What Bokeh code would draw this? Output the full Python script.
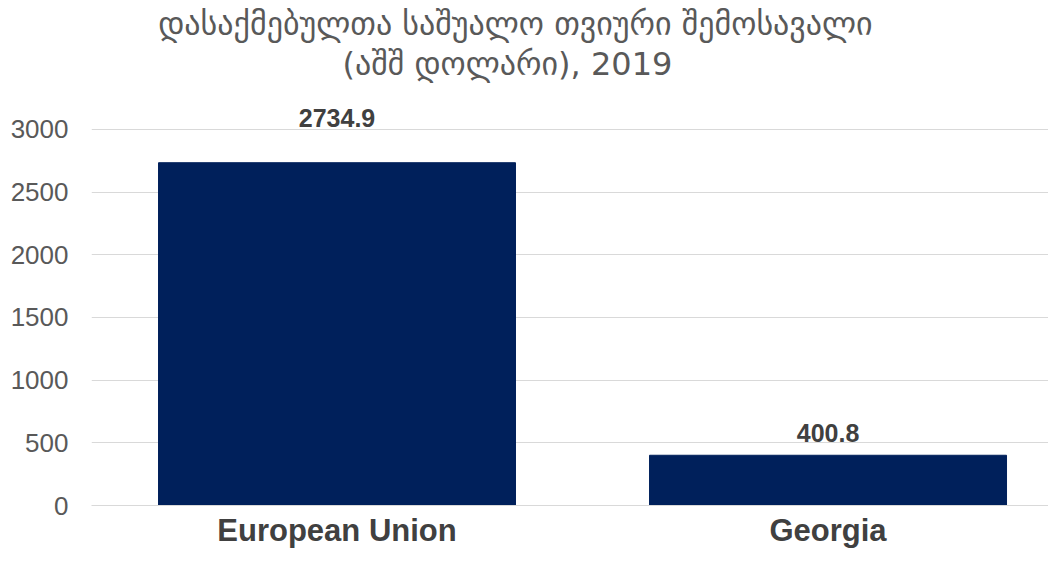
from bokeh.plotting import figure
from bokeh.models import ColumnDataSource, Range1d, FixedTicker
from bokeh.core.properties import value
from bokeh.embed import file_html
from bokeh.resources import INLINE

# ---- data ----
categories = ["European Union", "Georgia"]
values = [2734.9, 400.8]
value_labels = ["2734.9", "400.8"]
y_ticks = [0, 500, 1000, 1500, 2000, 2500, 3000]
title_lines = ["დასაქმებულთა  საშუალო  თვიური შემოსავალი", "(აშშ დოლარი), 2019"]

# ---- styling / layout ----
BAR_COLOR = "#00205B"
TEXT_GRAY = "#595959"
LABEL_GRAY = "#404040"
label_offsets = [-45, -22]

xs = [i + 0.5 for i in range(len(categories))]
src = ColumnDataSource(dict(x=xs, top=values, lab=value_labels, off=label_offsets))

p = figure(width=1048, height=551, output_backend="svg", toolbar_location=None,
           x_range=Range1d(0, 1.949), y_range=Range1d(0, 4029),
           min_border_left=91, min_border_right=0, min_border_top=0, min_border_bottom=46)
p.outline_line_color = None
p.background_fill_color = "white"
p.border_fill_color = "white"

p.vbar(x="x", top="top", width=0.727, source=src, color=BAR_COLOR)
p.text(x="x", y="top", text="lab", source=src, y_offset="off",
       text_align="center", text_baseline="middle",
       text_font=value("Liberation Sans"), text_font_style="bold",
       text_font_size="25px", text_color=LABEL_GRAY)

# title lines
p.text(x=[0.884], y=[3844], text=[title_lines[0]], text_align="center", text_baseline="middle",
       text_font=value("DejaVu Sans"), text_font_size="32px", text_color=TEXT_GRAY)
p.text(x=[0.847], y=[3525], text=[title_lines[1]], text_align="center", text_baseline="middle",
       text_font=value("DejaVu Sans"), text_font_size="32px", text_color=TEXT_GRAY)

# axes
p.xaxis.ticker = FixedTicker(ticks=xs)
p.xaxis.major_label_overrides = {x: c for x, c in zip(xs, categories)}
p.xaxis.major_label_text_font = "Liberation Sans"
p.xaxis.major_label_text_font_style = "bold"
p.xaxis.major_label_text_font_size = "31px"
p.xaxis.major_label_text_color = LABEL_GRAY
p.xaxis.major_label_standoff = 7
p.xaxis.major_tick_out = 0
p.xaxis.major_tick_in = 0
p.xaxis.axis_line_color = "#d9d9d9"
p.xaxis.major_tick_line_color = None
p.xaxis.minor_tick_line_color = None

p.yaxis.ticker = FixedTicker(ticks=y_ticks)
p.yaxis.major_label_text_font = "Liberation Sans"
p.yaxis.major_label_text_font_size = "26px"
p.yaxis.major_label_text_color = TEXT_GRAY
p.yaxis.major_label_standoff = 23
p.yaxis.major_tick_out = 0
p.yaxis.major_tick_in = 0
p.yaxis.axis_line_color = None
p.yaxis.major_tick_line_color = None
p.yaxis.minor_tick_line_color = None

p.xgrid.grid_line_color = None
p.ygrid.grid_line_color = "#d9d9d9"
p.ygrid.grid_line_width = 1

open("out.html", "w").write(file_html(p, INLINE))
